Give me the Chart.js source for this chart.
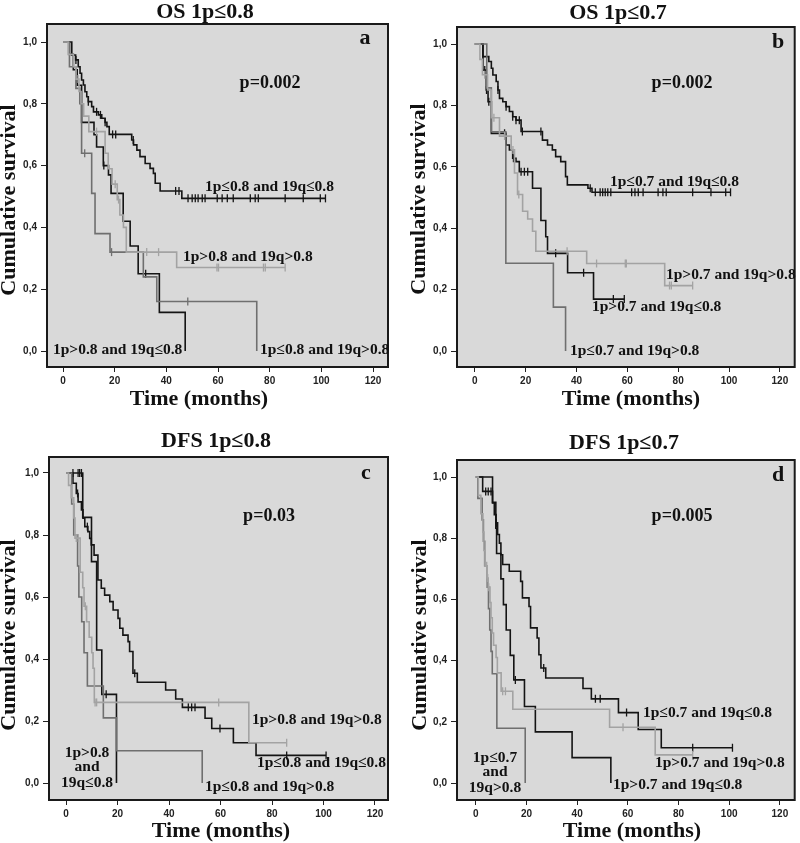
<!DOCTYPE html>
<html>
<head>
<meta charset="utf-8">
<script src="https://cdn.jsdelivr.net/npm/chart.js@4.4.1/dist/chart.umd.min.js"></script>
<style>
  body { margin: 0; background: #fff; width: 800px; height: 843px; position: relative; overflow: hidden; }
  canvas { position: absolute; }
</style>
</head>
<body>
<canvas id="pa" width="400" height="420" style="left:0;top:0"></canvas>
<canvas id="pb" width="400" height="420" style="left:400px;top:0"></canvas>
<canvas id="pc" width="400" height="423" style="left:0;top:420px"></canvas>
<canvas id="pd" width="400" height="423" style="left:400px;top:420px"></canvas>
<script>
// axis ticks
const xTicks = [0, 20, 40, 60, 80, 100, 120];
const yTicks = [0, 0.2, 0.4, 0.6, 0.8, 1.0];

// T = time of step (months), S = survival after the step, C = censored times
// --- panel a: OS 1p<=0.8 ---
const aLLT = [0, 3.4, 4.9, 5.9, 6.6, 7.2, 7.9, 8.5, 9.2, 9.8, 11.1, 11.8, 13.7, 15.0, 16.3, 17.0, 17.9, 26.6, 27.3, 28.6, 29.8, 31.8, 33.7, 35.0, 35.7, 37.6, 46.0];
const aLLS = [1, .958, .942, .920, .899, .877, .861, .839, .823, .807, .791, .774, .764, .753, .740, .726, .701, .683, .667, .650, .629, .607, .591, .575, .543, .518, .494];
const aLLC = [5.0, 9.8, 13.0, 14.5, 16.3, 19.2, 20.4, 27.2, 43.6, 44.9, 48.4, 50, 51.2, 52.3, 53.9, 55.0, 59.7, 61.6, 63.6, 65.9, 72.5, 74.4, 75.6, 86, 93, 99.6, 101.6];
const aHHT = [0, 2, 4, 5, 6.2, 7, 8, 10, 16.3, 17.5, 19, 21, 22, 23.4, 24.5, 44];
const aHHS = [1, .96, .92, .88, .84, .80, .76, .71, .64, .59, .54, .49, .44, .40, .32, .27];
const aHHC = [5.8, 13, 20.2, 21.5, 32.4, 37, 59.6, 60.2, 77.6, 78.3, 86];
const aHLT = [0, 2.5, 4, 5.5, 7.2, 12.0, 13, 15.6, 17.6, 18.6, 23.3, 26, 29.1, 37.3, 47.3];
const aHLS = [1, .96, .91, .86, .74, .70, .66, .60, .57, .51, .42, .34, .25, .125, 0];
const aHLC = [15.8, 32.0];
const aLHT = [0, 2.5, 5, 6.5, 7.2, 11.1, 12.4, 18.2, 31.1, 36.3, 75];
const aLHS = [1, .92, .85, .80, .64, .51, .38, .32, .24, .16, 0];
const aLHC = [8.4, 18.8, 48.3];

// --- panel b: OS 1p<=0.7 ---
const bLLT = [0, 3.2, 5.5, 6.5, 7.1, 8.4, 9.1, 9.7, 11.0, 12.3, 13.6, 14.9, 16.2, 18.2, 26.6, 28.6, 30.5, 31.8, 33.8, 35.7, 36.4, 44.5, 46.1];
const bLLS = [1, .959, .943, .921, .899, .878, .850, .823, .812, .796, .780, .763, .752, .715, .687, .671, .655, .633, .617, .568, .541, .530, .517];
const bLLC = [9.1, 12.3, 14.9, 16.2, 17.5, 18.7, 26.0, 45.4, 47.4, 49.3, 50.3, 51.3, 52.3, 53.5, 61.7, 63, 64.3, 66.2, 72.1, 74, 75.3, 85.7, 92.9, 98.7, 100.6];
const bHHT = [0, 2, 3, 5, 6.5, 9.7, 14.3, 15.6, 16.8, 18.8, 20.8, 22.7, 24, 44, 74.7];
const bHHS = [1, .95, .90, .85, .76, .70, .655, .58, .51, .455, .43, .39, .325, .285, .213];
const bHHC = [3.9, 7.5, 11.7, 15.0, 17.3, 36.3, 47.9, 59.2, 59.6, 76.6, 77.3, 85.7];
const bHLT = [0, 3.2, 4.5, 5.2, 6.5, 12.3, 13.6, 14.9, 16.2, 17.5, 22.7, 26.0, 27.9, 28.6, 36.5, 46.7];
const bHLS = [1, .915, .850, .812, .709, .671, .655, .628, .617, .584, .530, .425, .372, .318, .255, .169];
const bHLC = [3.9, 4.6, 5.5, 11.7, 15.2, 18.2, 19.5, 20.8, 31.8, 42.8, 54.5, 58.8];
const bLHT = [0, 4.7, 6.5, 12.2, 30.9, 35.7];
const bLHS = [1, .857, .714, .286, .143, 0];
const bLHC = [];

// --- panel c: DFS 1p<=0.8 ---
const cLLT = [0, 2.7, 4.0, 4.7, 6.0, 6.6, 7.3, 8.5, 9.2, 9.8, 10.9, 12.4, 13.7, 15.0, 17.0, 18.3, 20.2, 20.9, 22.1, 24.1, 24.7, 26.0, 27.7, 38.7, 42.6, 45.2, 54.0, 56.6, 65.0, 73.8];
const cLLS = [1, .967, .934, .907, .881, .854, .827, .811, .789, .768, .735, .655, .628, .606, .585, .558, .531, .499, .477, .456, .424, .354, .325, .300, .271, .244, .209, .176, .130, .089];
const cLLC = [4.5, 8.3, 26.7, 47.5, 48.8, 50.1, 59.8, 85.7, 101];
const cHHT = [0, 1, 2, 3, 3.5, 5.5, 6.5, 7, 8, 9, 10, 10.5, 11, 71];
const cHHS = [1, .96, .92, .855, .79, .68, .63, .57, .52, .47, .42, .37, .26, .13];
const cHHC = [4.0, 4.7, 7.5, 11.3, 11.9, 59.3, 85.7];
const cHLT = [0, 6.5, 9.9, 11.9, 13.9, 19.6];
const cHLS = [1, .857, .714, .429, .286, 0];
const cHLC = [2.7, 4.7, 5.3, 6.0, 15.6];
const cLHT = [0, 2.2, 3, 4.5, 5, 6.1, 7, 8.3, 14.5, 19.6, 52.9];
const cLHS = [1, .90, .80, .70, .60, .52, .42, .313, .21, .104, 0];
const cLHC = [];

// --- panel d: DFS 1p<=0.7 ---
const dLLT = [0, 2.7, 6.6, 7.3, 8.0, 8.6, 9.3, 9.9, 10.6, 13.2, 17.7, 18.4, 21.0, 21.6, 24.2, 24.9, 25.7, 27.6, 42.3, 45.6, 56.3, 64.1, 73.2];
const dLLS = [1, .953, .915, .877, .850, .812, .784, .746, .714, .692, .659, .605, .577, .507, .474, .419, .376, .343, .309, .275, .230, .175, .115];
const dLLC = [3.9, 4.9, 6.0, 8.1, 26.8, 47.2, 49.1, 59.5, 85.6, 101.3];
const dHHT = [0, 1, 2, 2.8, 3.2, 3.6, 4.5, 4.9, 5.6, 6, 6.5, 7, 8, 8.5, 10, 14.6, 52.8, 70.8];
const dHHS = [1, .94, .88, .82, .76, .71, .67, .64, .59, .54, .49, .45, .41, .36, .30, .241, .182, .092];
const dHHC = [4.3, 4.7, 5.1, 10.6, 11.7, 58.1, 85.6];
const dHLT = [0, 6.6, 7.9, 8.2, 9.9, 10.9, 12, 13.6, 15, 19.2, 23.5, 38, 53.3];
const dHLS = [1, .917, .833, .75, .667, .583, .50, .417, .337, .25, .167, .083, 0];
const dHLC = [15.6];
const dLHT = [0, 0.8, 2.5, 3, 3.5, 4.5, 5, 5.5, 6, 6.5, 8.3, 19.5];
const dLHS = [1, .93, .86, .79, .71, .64, .57, .50, .43, .357, .179, 0];
const dLHC = [];

const BLACK = '#141414', MID = '#6f6f6f', LIGHT = '#a3a3a3';
const SERIF = '"Liberation Serif", "Times New Roman", serif';

function stepAt(T, S, t) {
    let s = S[0];
    for (let i = 0; i < T.length; i++) if (T[i] <= t) s = S[i];
    return s;
}

function series(T, S, C, color) {
    const pts = T.map((t, i) => ({ x: t, y: S[i] }));
    const last = C.length ? Math.max(...C) : 0;
    if (last > T[T.length - 1]) pts.push({ x: last, y: S[S.length - 1] });
    return [
        { data: pts, stepped: true, borderColor: color, borderWidth: 1.6, pointRadius: 0, fill: false },
        { data: C.map(c => ({ x: c, y: stepAt(T, S, c) })), showLine: false, pointStyle: 'line', rotation: 90,
          pointRadius: 4, borderColor: color, borderWidth: 1.3, pointHoverRadius: 4 }
    ];
}

function makePanel(p) {
    const [L, T, R, B] = p.box;
    const pxM = (p.x120 - p.x0) / 120;
    const pxS = p.y0 - p.y1;
    const canvas = document.getElementById(p.id);
    const W = canvas.width, H = canvas.height;
    const xAxisH = 20;

    const frame = {
        id: 'frame',
        beforeDraw(chart) {
            const { ctx, chartArea: a } = chart;
            ctx.save();
            ctx.fillStyle = '#d9d9d9';
            ctx.fillRect(a.left, a.top, a.width, a.height);
            ctx.restore();
        },
        afterDraw(chart) {
            const { ctx, chartArea: a } = chart;
            ctx.save();
            ctx.strokeStyle = '#1a1a1a';
            ctx.lineWidth = 2;
            ctx.strokeRect(a.left, a.top, a.width, a.height);
            ctx.fillStyle = '#111';
            ctx.textBaseline = 'middle';
            p.texts.forEach(t => {
                ctx.font = `bold ${t.size}px ${SERIF}`;
                ctx.textAlign = t.align || 'left';
                ctx.save();
                ctx.translate(t.x, t.y);
                if (t.rot) ctx.rotate(t.rot);
                ctx.fillText(t.text, 0, 0);
                ctx.restore();
            });
            ctx.restore();
        }
    };

    new Chart(canvas, {
        type: 'line',
        data: { datasets: p.datasets },
        options: {
            responsive: false,
            animation: false,
            devicePixelRatio: 1,
            layout: { padding: { left: 0, top: T, right: W - R, bottom: H - B - xAxisH } },
            plugins: { legend: { display: false }, tooltip: { enabled: false } },
            scales: {
                x: {
                    type: 'linear',
                    min: -(p.x0 - L) / pxM,
                    max: 120 + (R - p.x120) / pxM,
                    afterBuildTicks: s => { s.ticks = xTicks.map(v => ({ value: v })); },
                    afterFit: s => { s.height = xAxisH; },
                    grid: { drawOnChartArea: false, tickLength: 5, color: '#222' },
                    border: { display: false },
                    ticks: { padding: 3, maxRotation: 0, autoSkip: false, color: '#222',
                             font: { family: '"Liberation Sans", Arial, sans-serif', size: 10, weight: 'bold' } }
                },
                y: {
                    type: 'linear',
                    min: -(B - p.y0) / pxS,
                    max: 1 + (p.y1 - T) / pxS,
                    afterBuildTicks: s => { s.ticks = yTicks.map(v => ({ value: v })); },
                    afterFit: s => { s.width = L; },
                    grid: { drawOnChartArea: false, tickLength: 6, color: '#222' },
                    border: { display: false },
                    ticks: { padding: 4, color: '#222', callback: v => v.toFixed(1).replace('.', ','),
                             font: { family: '"Liberation Sans", Arial, sans-serif', size: 10, weight: 'bold' } }
                }
            }
        },
        plugins: [frame]
    });
}

const LBL = 15.5;
makePanel({
    id: 'pa', box: [47, 24, 388, 367], x0: 63, x120: 373, y1: 42, y0: 351,
    datasets: [...series(aHHT, aHHS, aHHC, LIGHT), ...series(aLHT, aLHS, aLHC, MID),
               ...series(aHLT, aHLS, aHLC, BLACK), ...series(aLLT, aLLS, aLLC, BLACK)],
    texts: [
        { text: 'OS 1p≤0.8', x: 205, y: 12, size: 22, align: 'center' },
        { text: 'Cumulative survival', x: 9, y: 200, size: 22, align: 'center', rot: -Math.PI / 2 },
        { text: 'Time (months)', x: 199, y: 399, size: 22, align: 'center' },
        { text: 'a', x: 365, y: 38, size: 22, align: 'center' },
        { text: 'p=0.002', x: 270, y: 83, size: 18, align: 'center' },
        { text: '1p≤0.8 and 19q≤0.8', x: 205, y: 187, size: LBL },
        { text: '1p>0.8 and 19q>0.8', x: 183, y: 257, size: LBL },
        { text: '1p>0.8 and 19q≤0.8', x: 53, y: 350, size: LBL },
        { text: '1p≤0.8 and 19q>0.8', x: 260, y: 350, size: LBL }
    ]
});
makePanel({
    id: 'pb', box: [57, 27, 398, 367], x0: 75, x120: 383, y1: 44, y0: 351,
    datasets: [...series(bHHT, bHHS, bHHC, LIGHT), ...series(bLHT, bLHS, bLHC, MID),
               ...series(bHLT, bHLS, bHLC, BLACK), ...series(bLLT, bLLS, bLLC, BLACK)],
    texts: [
        { text: 'OS 1p≤0.7', x: 218, y: 13, size: 22, align: 'center' },
        { text: 'Cumulative survival', x: 19, y: 199, size: 22, align: 'center', rot: -Math.PI / 2 },
        { text: 'Time (months)', x: 231, y: 399, size: 22, align: 'center' },
        { text: 'b', x: 378, y: 42, size: 22, align: 'center' },
        { text: 'p=0.002', x: 282, y: 83, size: 18, align: 'center' },
        { text: '1p≤0.7 and 19q≤0.8', x: 210, y: 182, size: LBL },
        { text: '1p>0.7 and 19q>0.8', x: 266, y: 275, size: LBL },
        { text: '1p>0.7 and 19q≤0.8', x: 192, y: 307, size: LBL },
        { text: '1p≤0.7 and 19q>0.8', x: 170, y: 351, size: LBL }
    ]
});
makePanel({
    id: 'pc', box: [49, 37, 388, 380], x0: 66, x120: 375, y1: 53, y0: 363,
    datasets: [...series(cHHT, cHHS, cHHC, LIGHT), ...series(cLHT, cLHS, cLHC, MID),
               ...series(cHLT, cHLS, cHLC, BLACK), ...series(cLLT, cLLS, cLLC, BLACK)],
    texts: [
        { text: 'DFS 1p≤0.8', x: 216, y: 21, size: 22, align: 'center' },
        { text: 'Cumulative survival', x: 9, y: 215, size: 22, align: 'center', rot: -Math.PI / 2 },
        { text: 'Time (months)', x: 221, y: 411, size: 22, align: 'center' },
        { text: 'c', x: 366, y: 53, size: 22, align: 'center' },
        { text: 'p=0.03', x: 269, y: 96, size: 18, align: 'center' },
        { text: '1p>0.8 and 19q>0.8', x: 252, y: 300, size: LBL },
        { text: '1p≤0.8 and 19q≤0.8', x: 257, y: 343, size: LBL },
        { text: '1p≤0.8 and 19q>0.8', x: 205, y: 367, size: LBL },
        { text: '1p>0.8', x: 87, y: 333, size: LBL, align: 'center' },
        { text: 'and', x: 87, y: 347, size: LBL, align: 'center' },
        { text: '19q≤0.8', x: 87, y: 363, size: LBL, align: 'center' }
    ]
});
makePanel({
    id: 'pd', box: [57, 40, 398, 380], x0: 76, x120: 383, y1: 57, y0: 363,
    datasets: [...series(dHHT, dHHS, dHHC, LIGHT), ...series(dLHT, dLHS, dLHC, MID),
               ...series(dHLT, dHLS, dHLC, BLACK), ...series(dLLT, dLLS, dLLC, BLACK)],
    texts: [
        { text: 'DFS 1p≤0.7', x: 224, y: 23, size: 22, align: 'center' },
        { text: 'Cumulative survival', x: 20, y: 215, size: 22, align: 'center', rot: -Math.PI / 2 },
        { text: 'Time (months)', x: 232, y: 411, size: 22, align: 'center' },
        { text: 'd', x: 378, y: 55, size: 22, align: 'center' },
        { text: 'p=0.005', x: 282, y: 96, size: 18, align: 'center' },
        { text: '1p≤0.7 and 19q≤0.8', x: 243, y: 293, size: LBL },
        { text: '1p>0.7 and 19q>0.8', x: 255, y: 343, size: LBL },
        { text: '1p>0.7 and 19q≤0.8', x: 213, y: 365, size: LBL },
        { text: '1p≤0.7', x: 95, y: 338, size: LBL, align: 'center' },
        { text: 'and', x: 95, y: 352, size: LBL, align: 'center' },
        { text: '19q>0.8', x: 95, y: 368, size: LBL, align: 'center' }
    ]
});
</script>
</body>
</html>
